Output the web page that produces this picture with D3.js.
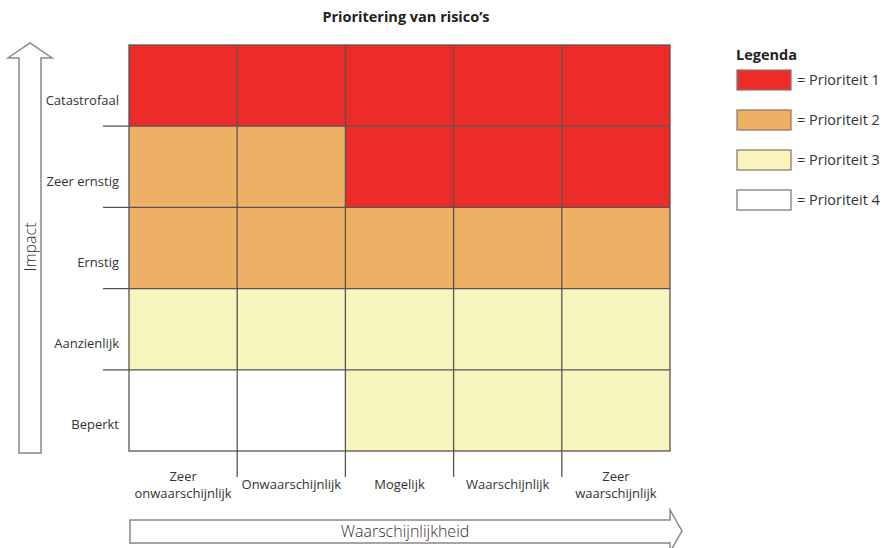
<!DOCTYPE html>
<html>
<head>
<meta charset="utf-8">
<script src="https://cdn.jsdelivr.net/npm/d3@7"></script>
<style>
  body { margin: 0; background: #fff; }
  svg { display: block; font-family: "Open Sans", sans-serif; }
  .lbl { font-size: 13px; fill: #333; }
</style>
</head>
<body>
<svg id="chart" width="887" height="548"></svg>
<script>
// data
var likelihood = ['Zeer\nonwaarschijnlijk', 'Onwaarschijnlijk', 'Mogelijk', 'Waarschijnlijk', 'Zeer\nwaarschijnlijk'];
var impact = ['Catastrofaal', 'Zeer ernstig', 'Ernstig', 'Aanzienlijk', 'Beperkt'];
// priority per impact row (top to bottom), per likelihood column
var priority = [
  [1, 1, 1, 1, 1],
  [2, 2, 1, 1, 1],
  [2, 2, 2, 2, 2],
  [3, 3, 3, 3, 3],
  [4, 4, 3, 3, 3]
];
var legendLabels = ['= Prioriteit 1', '= Prioriteit 2', '= Prioriteit 3', '= Prioriteit 4'];
var priorityColors = ['#ec2c28', '#eeb065', '#f8f4be', '#ffffff'];

var svg = d3.select('#chart');

var x = d3.scaleBand().domain(likelihood).range([129, 670]);
var y = d3.scaleBand().domain(impact).range([45, 451]);
var color = d3.scaleOrdinal().domain([1, 2, 3, 4]).range(priorityColors);

// title
svg.append('text')
  .attr('x', 406).attr('y', 22)
  .attr('text-anchor', 'middle')
  .style('font-size', '14.5px').style('font-weight', 700).style('fill', '#222')
  .text("Prioritering van risico\u2019s");

// cells
var cells = [];
priority.forEach(function(row, i) {
  row.forEach(function(p, j) {
    cells.push({ row: impact[i], col: likelihood[j], p: p });
  });
});

svg.append('g').selectAll('rect').data(cells).enter().append('rect')
  .attr('x', function(d) { return x(d.col); })
  .attr('y', function(d) { return y(d.row); })
  .attr('width', x.bandwidth())
  .attr('height', y.bandwidth())
  .attr('fill', function(d) { return color(d.p); });

var grid = svg.append('g').attr('stroke', '#5b5250').attr('stroke-width', 1.3).attr('fill', 'none');

// internal column lines, extending below the grid
likelihood.slice(1).forEach(function(c) {
  grid.append('line')
    .attr('x1', x(c)).attr('x2', x(c))
    .attr('y1', 45).attr('y2', 477);
});
// internal row lines, extending left of the grid
impact.slice(1).forEach(function(r) {
  grid.append('line')
    .attr('x1', 103).attr('x2', 670)
    .attr('y1', y(r)).attr('y2', y(r));
});
// outer border
grid.append('rect')
  .attr('x', 129).attr('y', 45)
  .attr('width', 670 - 129).attr('height', 451 - 45);

// impact labels
svg.append('g').selectAll('text').data(impact).enter().append('text')
  .attr('class', 'lbl')
  .attr('x', 119)
  .attr('y', function(d) { return y(d) + y.bandwidth() / 2 + 19; })
  .attr('text-anchor', 'end')
  .text(function(d) { return d; });

// likelihood labels (one text per line)
var xlData = [];
likelihood.forEach(function(d) {
  var lines = d.split('\n');
  lines.forEach(function(t, k) {
    var yy = lines.length > 1 ? 481 + k * 17 : 489;
    xlData.push({ cat: d, text: t, y: yy });
  });
});
svg.append('g').selectAll('text').data(xlData).enter().append('text')
  .attr('class', 'lbl')
  .attr('text-anchor', 'middle')
  .attr('x', function(d) { return x(d.cat) + x.bandwidth() / 2; })
  .attr('y', function(d) { return d.y; })
  .text(function(d) { return d.text; });

// vertical arrow (Impact)
svg.append('path')
  .attr('d', 'M19,453 L19,58 L8,58 L30,43 L52,58 L41,58 L41,453 Z')
  .attr('fill', '#fff').attr('stroke', '#8c8684').attr('stroke-width', 1.5);
svg.append('text')
  .attr('transform', 'translate(36,247) rotate(-90)')
  .attr('text-anchor', 'middle')
  .style('font-size', '16px').style('font-weight', 300).style('fill', '#333')
  .text('Impact');

// horizontal arrow (Waarschijnlijkheid)
svg.append('path')
  .attr('d', 'M130,520 L670,520 L670,510 L682,531 L670,552 L670,543 L130,543 Z')
  .attr('fill', '#fff').attr('stroke', '#8c8684').attr('stroke-width', 1.5);
svg.append('text')
  .attr('x', 405).attr('y', 537)
  .attr('text-anchor', 'middle')
  .style('font-size', '16px').style('font-weight', 300).style('fill', '#333')
  .text('Waarschijnlijkheid');

// legend
var legend = svg.append('g');
legend.append('text')
  .attr('x', 736).attr('y', 60)
  .style('font-size', '14.5px').style('font-weight', 700).style('fill', '#222')
  .text('Legenda');
var li = legend.selectAll('g.item').data(legendLabels).enter().append('g')
  .attr('class', 'item')
  .attr('transform', function(d, i) { return 'translate(737,' + (70 + i * 40) + ')'; });
li.append('rect')
  .attr('width', 54).attr('height', 20)
  .attr('fill', function(d, i) { return priorityColors[i]; })
  .attr('stroke', '#8d7a70').attr('stroke-width', 1.3);
li.append('text')
  .attr('x', 60).attr('y', 15)
  .style('font-size', '14.5px').style('fill', '#333')
  .text(function(d) { return d; });
</script>
</body>
</html>
